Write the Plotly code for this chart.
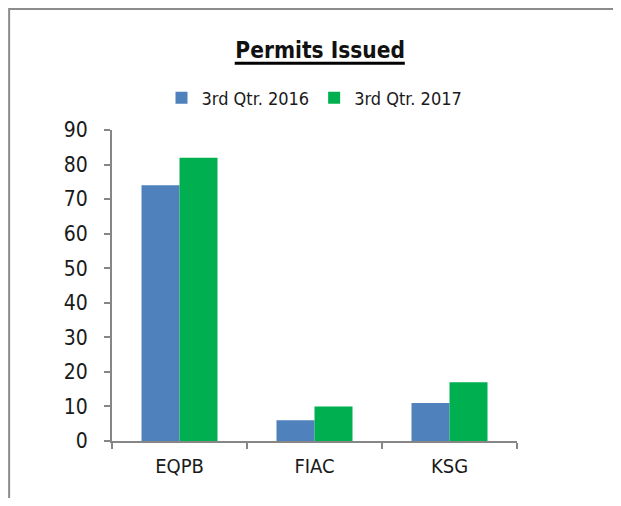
import plotly.graph_objects as go

categories = ["EQPB", "FIAC", "KSG"]
q3_2016 = [74, 6, 11]
q3_2017 = [82, 10, 17]

font_family = "DejaVu Sans Condensed, Liberation Sans, Arial, sans-serif"
axis_grey = "#868686"

fig = go.Figure()
fig.add_trace(go.Bar(x=categories, y=q3_2016, name="3rd Qtr. 2016",
                     marker_color="#4f81bd", marker_line_width=0))
fig.add_trace(go.Bar(x=categories, y=q3_2017, name="3rd Qtr. 2017",
                     marker_color="#00b050", marker_line_width=0))

# page body has an 8px margin, so the figure is a bit smaller than the window
fig.update_layout(
    width=605, height=490,
    margin=dict(l=104, r=96, t=122, b=57),
    paper_bgcolor="white", plot_bgcolor="white",
    font=dict(family=font_family, color="#1a1a1a"),
    barmode="group", bargap=0.437, bargroupgap=0,
    title=dict(text="<b>Permits Issued</b>", x=0.516, xanchor="center",
               y=0.914, yanchor="middle", font=dict(size=22.5, color="#111111")),
    legend=dict(orientation="h", x=0.5, xanchor="center", y=1.103, yanchor="middle",
                font=dict(size=18), itemwidth=30, traceorder="normal"),
    showlegend=True,
)

fig.update_xaxes(showline=True, linecolor=axis_grey, linewidth=2,
                 ticks="outside", tickson="boundaries", ticklen=6,
                 tickcolor=axis_grey, tickwidth=2, ticklabelstandoff=6,
                 tickfont=dict(size=20), showgrid=False)
fig.update_yaxes(range=[0, 90], dtick=10, showline=True, linecolor=axis_grey,
                 linewidth=2, ticks="outside", ticklen=6, tickcolor=axis_grey,
                 tickwidth=2, ticklabelstandoff=12, tickfont=dict(size=21),
                 showgrid=False, zeroline=False)

# thick title underline
fig.add_shape(type="line", xref="paper", yref="paper",
              x0=0.303, x1=0.723, y0=1.215, y1=1.215,
              line=dict(color="black", width=3))

# chart frame (only left and top edges show in the crop)
fig.add_shape(type="rect", xref="paper", yref="paper",
              x0=-0.254, x1=1.3, y0=-0.3, y1=1.389,
              line=dict(color="#8c8c8c", width=2))

fig.write_html("out.html")
